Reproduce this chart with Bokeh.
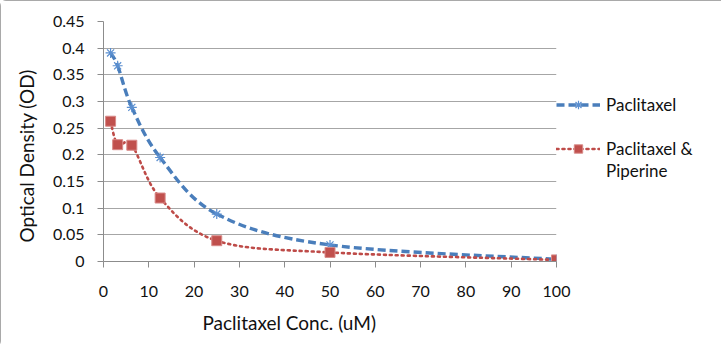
from bokeh.plotting import figure
from bokeh.models import Legend, LegendItem, Title, FixedTicker, ColumnDataSource, Range1d
from bokeh.embed import file_html
from bokeh.resources import INLINE

conc = [1.5625, 3.125, 6.25, 12.5, 25, 50, 100]
od_paclitaxel = [0.391, 0.367, 0.289, 0.195, 0.089, 0.031, 0.004]
od_pac_piperine = [0.263, 0.219, 0.218, 0.119, 0.039, 0.017, 0.003]
x_ticks = [0, 10, 20, 30, 40, 50, 60, 70, 80, 90, 100]
y_ticks = [0, 0.05, 0.1, 0.15, 0.2, 0.25, 0.3, 0.35, 0.4, 0.45]
y_tick_labels = ["0", "0.05", "0.1", "0.15", "0.2", "0.25", "0.3", "0.35", "0.4", "0.45"]

FONT = "Lato"
BLUE = "#4A7EBB"
RED = "#BE4B48"


def bezier_segments(xs, ys):
    n = len(xs)
    d = dict(x0=[], y0=[], x1=[], y1=[], cx0=[], cy0=[], cx1=[], cy1=[])
    for i in range(n - 1):
        a = i - 1 if i > 0 else i
        b = i + 2 if i + 2 < n else i + 1
        d["x0"].append(xs[i]); d["y0"].append(ys[i])
        d["x1"].append(xs[i + 1]); d["y1"].append(ys[i + 1])
        d["cx0"].append(xs[i] + (xs[i + 1] - xs[a]) / 6)
        d["cy0"].append(ys[i] + (ys[i + 1] - ys[a]) / 6)
        d["cx1"].append(xs[i + 1] - (xs[b] - xs[i]) / 6)
        d["cy1"].append(ys[i + 1] - (ys[b] - ys[i]) / 6)
    return ColumnDataSource(d)


p = figure(frame_width=453, frame_height=240, x_range=(0, 100), y_range=(0, 0.45),
           output_backend="svg", toolbar_location=None,
           min_border_left=103, min_border_right=149, min_border_top=21, min_border_bottom=86,
           styles={"outline": "1px solid #8C8C8C", "outline-offset": "-1px",
                   "border-radius": "6px"})
p.outline_line_color = None
p.background_fill_color = "white"
p.border_fill_color = "white"
# range used only by legend proxy renderers (keeps them out of the visible frame)
p.extra_y_ranges = {"legend_only": Range1d(10, 11)}

p.xgrid.grid_line_color = None
p.ygrid.grid_line_color = "#A6A6A6"
p.ygrid.ticker = FixedTicker(ticks=y_ticks)

for ax in (p.xaxis[0], p.yaxis[0]):
    ax.axis_line_color = "#8C8C8C"
    ax.major_tick_line_color = "#8C8C8C"
    ax.major_tick_in = 0
    ax.major_tick_out = 6
    ax.minor_tick_line_color = None
    ax.major_label_text_font = FONT
    ax.major_label_text_font_size = "16px"
    ax.major_label_text_color = "#111111"

p.xaxis.ticker = FixedTicker(ticks=x_ticks)
p.xaxis.major_label_standoff = 18
p.yaxis.ticker = FixedTicker(ticks=y_ticks)
p.yaxis.major_label_overrides = {t: l for t, l in zip(y_ticks, y_tick_labels)}
p.yaxis.major_label_standoff = 13

src_b = bezier_segments(conc, od_paclitaxel)
src_r = bezier_segments(conc, od_pac_piperine)
p.bezier(x0="x0", y0="y0", x1="x1", y1="y1", cx0="cx0", cy0="cy0", cx1="cx1", cy1="cy1",
         source=src_b, line_color=BLUE, line_width=3.4, line_dash="8 4")
p.bezier(x0="x0", y0="y0", x1="x1", y1="y1", cx0="cx0", cy0="cy0", cx1="cx1", cy1="cy1",
         source=src_r, line_color=RED, line_width=2.6, line_dash="2 4", line_cap="round")

sb = p.scatter(conc, od_paclitaxel, marker="asterisk", size=10, line_color="#5B8FD0", line_width=1.2)
sr = p.scatter(conc, od_pac_piperine, marker="square", size=10, fill_color="#C0504D",
               line_color="#D88A88", line_width=1)

# legend proxies
lb = p.line(conc, od_paclitaxel, line_color=BLUE, line_width=3.4, line_dash="8 4",
            y_range_name="legend_only")
lr = p.line(conc, od_pac_piperine, line_color=RED, line_width=2.6, line_dash="2 4",
            line_cap="round", y_range_name="legend_only")
blank1 = p.line(conc, od_paclitaxel, line_alpha=0, y_range_name="legend_only")
blank2 = p.line(conc, od_paclitaxel, line_alpha=0, y_range_name="legend_only")

legend = Legend(items=[
    LegendItem(label="Paclitaxel", renderers=[lb, sb]),
    LegendItem(label=" ", renderers=[blank1]),
    LegendItem(label="Paclitaxel &", renderers=[lr, sr]),
    LegendItem(label="Piperine", renderers=[blank2]),
], location=(0, 80), orientation="vertical")
legend.padding = 0
legend.margin = 0
legend.spacing = 1
legend.glyph_width = 44
legend.glyph_height = 21
legend.label_height = 21
legend.label_standoff = 6
legend.border_line_alpha = 0
legend.background_fill_alpha = 0
legend.label_text_font = FONT
legend.label_text_font_size = "17px"
legend.label_text_color = "#111111"
p.add_layout(legend, "right")

p.add_layout(Title(text="Paclitaxel Conc. (uM)", align="left", offset=99, standoff=19,
                   text_font=FONT, text_font_size="19px", text_font_style="normal",
                   text_color="#111111"), "below")
p.add_layout(Title(text="Optical Density (OD)", align="left", offset=19, standoff=24,
                   text_font=FONT, text_font_size="19px", text_font_style="normal",
                   text_color="#111111"), "left")

open("out.html", "w").write(file_html(p, INLINE))
